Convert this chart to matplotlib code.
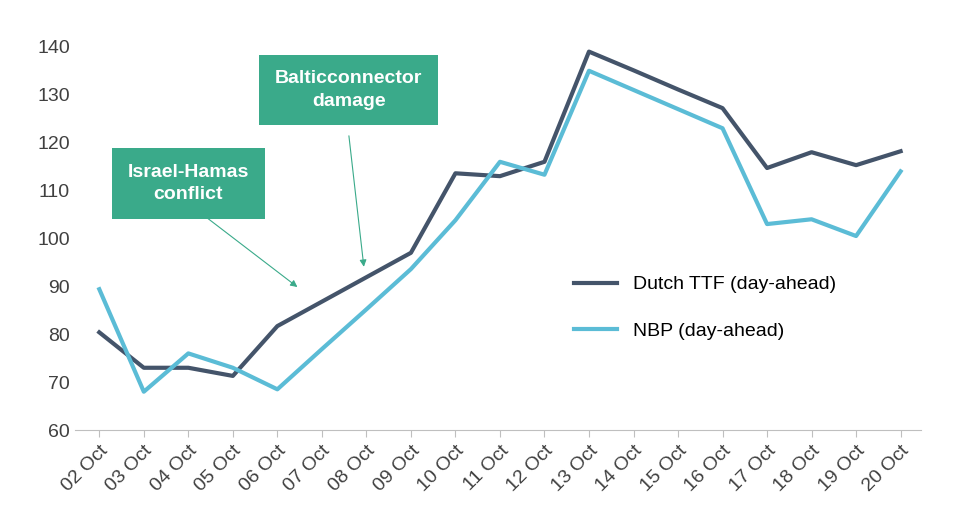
import matplotlib.pyplot as plt
plt.rcParams['font.family'] = ['Liberation Sans', 'DejaVu Sans']

dates = ["02 Oct","03 Oct","04 Oct","05 Oct","06 Oct","07 Oct","08 Oct","09 Oct","10 Oct",
         "11 Oct","12 Oct","13 Oct","14 Oct","15 Oct","16 Oct","17 Oct","18 Oct","19 Oct","20 Oct"]
ttf = [80.4,73,73,71.3,81.7,86.8,91.9,97,113.6,113,116,139,135.1,131.1,127.2,114.7,118,115.3,118.2]
nbp = [89.4,68,76,73,68.5,76.9,85.2,93.6,103.8,116,113.3,135,131,127,123,103,104,100.5,114]

fig = plt.figure(figsize=(9.59,5.2), dpi=100)
ax = fig.add_axes([0.078, 0.173, 0.882, 0.783])
x = range(len(dates))
ax.plot(x, ttf, color="#44546a", lw=3, label="Dutch TTF (day-ahead)")
ax.plot(x, nbp, color="#5bbcd6", lw=3, label="NBP (day-ahead)")
ax.set_ylim(60,145)
ax.set_yticks(range(60,141,10))
ax.set_xlim(-0.55, len(dates)-0.55)
ax.set_xticks(list(x))
ax.set_xticklabels(dates, rotation=45, ha="right", rotation_mode="anchor")
ax.tick_params(axis='both', labelsize=14, colors="#404040", length=0)
ax.tick_params(axis='x', length=5, color="#bfbfbf")
for s in ["top","right","left"]:
    ax.spines[s].set_visible(False)
ax.spines["bottom"].set_color("#bfbfbf")
ax.legend(loc="center left", bbox_to_anchor=(0.57,0.30), frameon=False, fontsize=14,
          labelspacing=1.5, handlelength=2.2)

green = "#3aaa8a"
ax.annotate("", xy=(4.5,89.5), xytext=(1.9,108), arrowprops=dict(arrowstyle="-|>", color=green, lw=0.8))
ax.annotate("", xy=(5.95,93.5), xytext=(5.6,122), arrowprops=dict(arrowstyle="-|>", color=green, lw=0.8))
ax.text(2.0,111.5,"Israel-Hamas\nconflict", ha="center", va="center", color="white", fontsize=14,
        fontweight="bold", linespacing=1.4, bbox=dict(boxstyle="square,pad=0.8", fc=green, ec="none"))
ax.text(5.6,131,"Balticconnector\ndamage", ha="center", va="center", color="white", fontsize=14,
        fontweight="bold", linespacing=1.4, bbox=dict(boxstyle="square,pad=0.8", fc=green, ec="none"))
fig.savefig("out.png")
